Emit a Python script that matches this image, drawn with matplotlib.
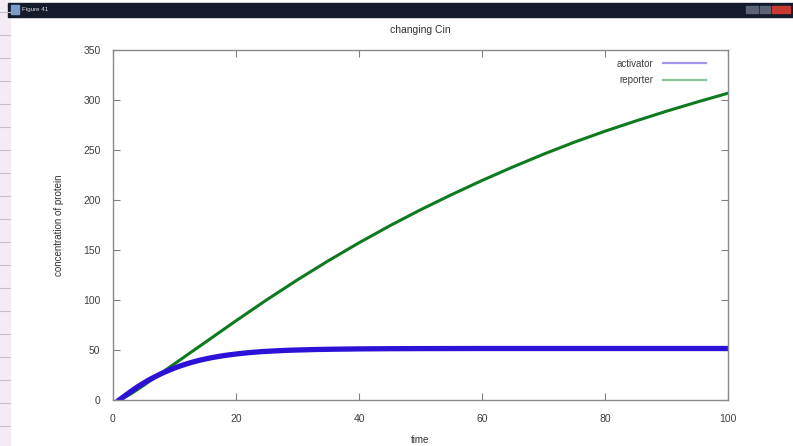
import matplotlib.pyplot as plt
from matplotlib.lines import Line2D
from matplotlib.patches import Rectangle

# values
t_act = [1, 2, 3, 4, 5, 6, 7, 8, 9, 10, 11, 12, 13, 14, 15, 16, 18, 20, 22, 24, 26, 28, 30,
         33, 36, 40, 45, 50, 60, 70, 80, 90, 100]
activator = [0, 4.5, 9, 13.2, 17, 20.6, 23.8, 26.8, 29.5, 32, 34.2, 36.2, 38, 39.6, 41, 42.3,
             44.4, 46, 47.3, 48.3, 49, 49.6, 50, 50.5, 50.8, 51.1, 51.3, 51.4, 51.5, 51.5, 51.5,
             51.5, 51.5]

t_rep = [1, 2, 3, 4, 5, 6, 8, 10, 12, 14, 16, 18, 20, 25, 30, 35, 40, 45, 50, 55, 60, 65, 70,
         75, 80, 85, 90, 95, 100]
reporter = [0, 3, 6.5, 10.5, 14.7, 19, 27.6, 36.2, 44.8, 53.4, 62, 70.6, 79.2, 100.2, 120.2,
            139.2, 157.2, 174.2, 190.2, 205.2, 219.5, 233, 245.8, 257.8, 268.8, 279, 288.8,
            298, 306.8]

x_ticks = [0, 20, 40, 60, 80, 100]
y_ticks = [0, 50, 100, 150, 200, 250, 300, 350]

plt.rcParams['font.family'] = ['Liberation Sans', 'DejaVu Sans']

fig = plt.figure(figsize=(7.93, 4.46), dpi=100)
fig.patch.set_facecolor('white')

W, H = 793, 446

def box(x, y, w, h, color):
    # rectangle in screenshot pixel coordinates (origin top-left)
    fig.patches.append(Rectangle((x / W, 1 - (y + h) / H), w / W, h / H,
                                 transform=fig.transFigure, color=color, zorder=0))

# notebook strip on the left
box(0, 0, 10, H, '#f4ebf4')
for yy in range(10, H, 23):
    fig.add_artist(Line2D([0, 10 / W], [1 - (yy + 2) / H] * 2, transform=fig.transFigure,
                          color='#c8bfc8', lw=0.8))
# window title bar
box(8, 3, W - 8, 14, '#141c2c')
box(11, 5, 8, 9, '#7c9ccc')
fig.text(22 / W, 1 - 10 / H, 'Figure 41', color='#d8dce4', fontsize=4.5, va='center')
box(746, 6, 12, 7, '#5a6474')
box(760, 6, 10, 7, '#5a6474')
box(772, 6, 18, 7, '#c83a30')

ax = fig.add_axes([113 / W, 46 / H, 615 / W, 350 / H])
ax.plot(t_rep, reporter, color='#0e7a20', lw=2.2, solid_joinstyle='round')
ax.plot(t_act, activator, color='#2c12d6', lw=3.8, solid_joinstyle='round')

ax.set_xlim(0, 100)
ax.set_ylim(0, 350)
ax.set_xticks(x_ticks)
ax.set_yticks(y_ticks)
ax.tick_params(direction='in', length=5, width=0.8, color='#808080', labelcolor='#404040',
               labelsize=7.5, top=True, right=True, pad=9)
ax.tick_params(axis='x', pad=10)
for s in ax.spines.values():
    s.set_color('#8a8a8a')
    s.set_linewidth(1)

ax.set_title('changing Cin', fontsize=7.5, color='#303030', pad=12)
ax.set_xlabel('time', fontsize=7, color='#303030', labelpad=8)
ax.set_ylabel('concentration of protein', fontsize=7, color='#303030', labelpad=14)

handles = [Line2D([], [], color='#a496ec', lw=1.6),
           Line2D([], [], color='#8cc49a', lw=1.6)]
ax.legend(handles, ['activator', 'reporter'], loc='upper right', bbox_to_anchor=(0.978, 1.0),
          frameon=False, markerfirst=False, handlelength=4.4, fontsize=7,
          labelcolor='#404040', labelspacing=0.65, handletextpad=1.0)

fig.savefig('out.png', dpi=100)
